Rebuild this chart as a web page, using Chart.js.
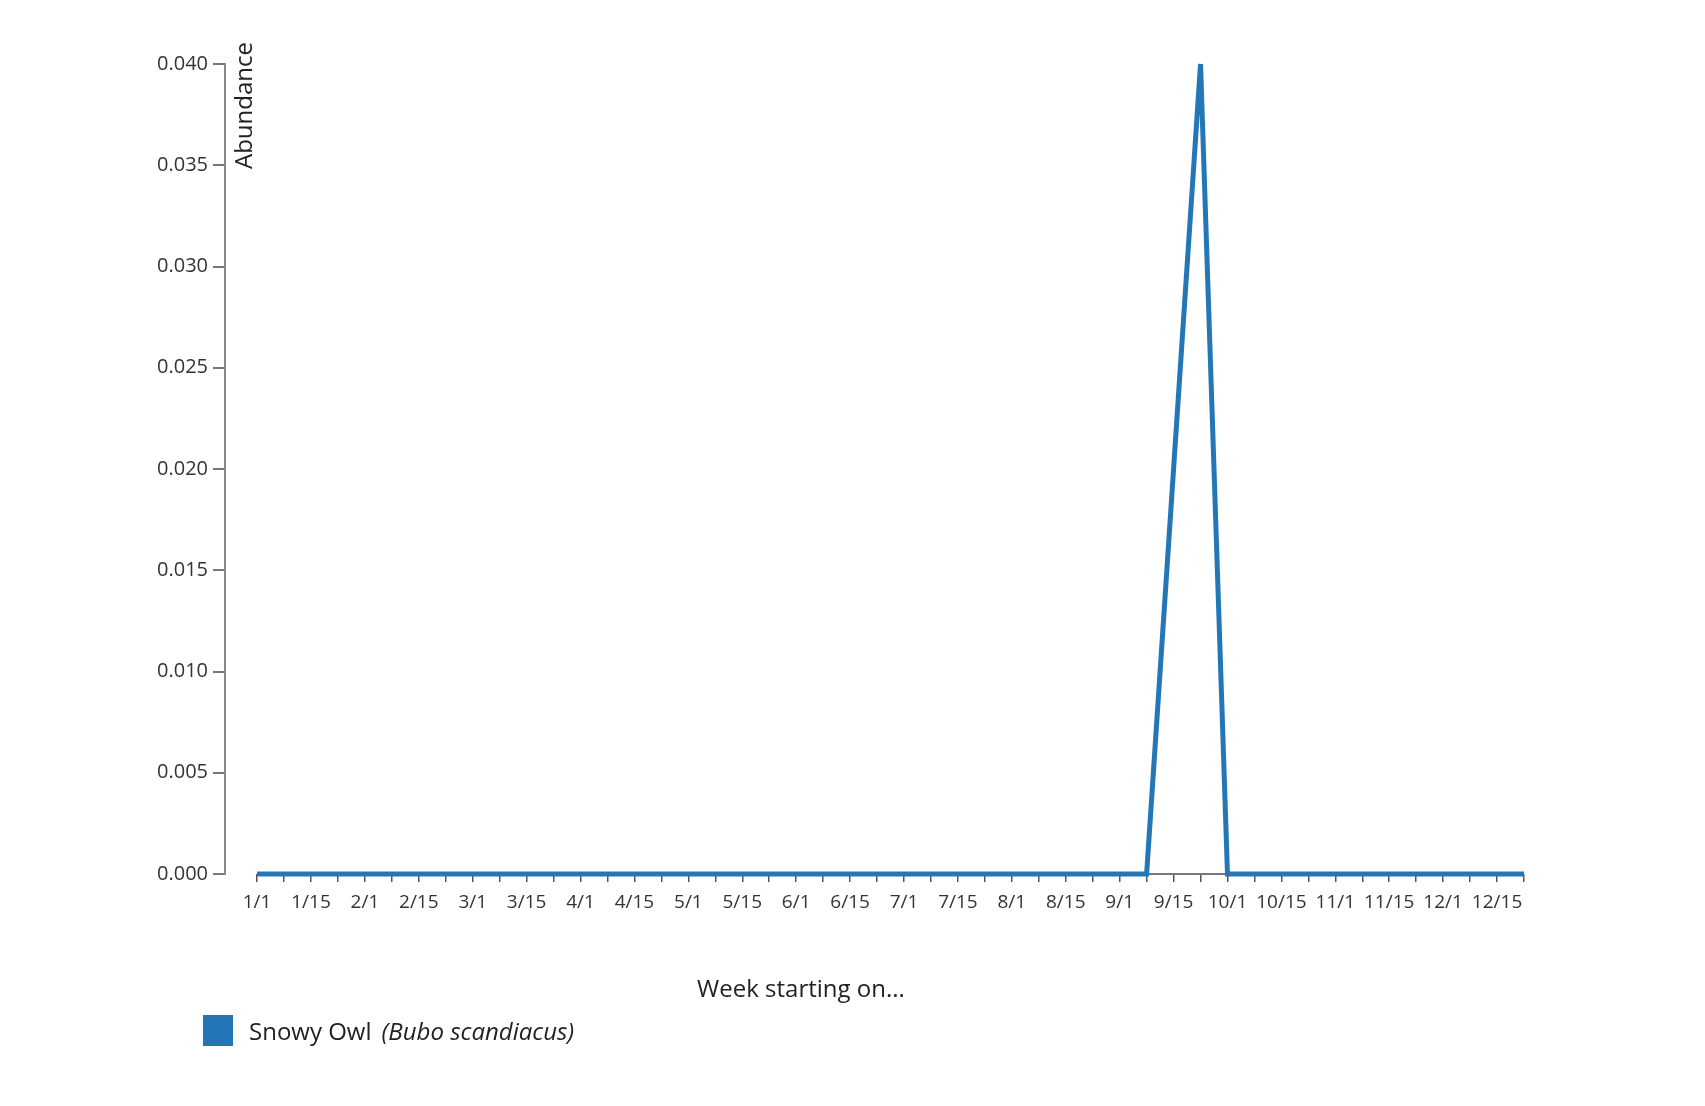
<!DOCTYPE html>
<html>
<head>
<meta charset="utf-8">
<script src="https://cdn.jsdelivr.net/npm/chart.js@4/dist/chart.umd.min.js"></script>
<style>
    html, body { margin: 0; padding: 0; background: #fff; }
    #wrap { position: relative; width: 1705px; height: 1106px; font-family: "Open Sans", sans-serif; color: #222; }
    #chart { position: absolute; left: 0; top: 0; }
    #y-title {
        position: absolute; left: 231px; top: 42px;
        font-size: 24px; line-height: 24px;
        writing-mode: vertical-rl; transform: rotate(180deg);
    }
    #x-title {
        position: absolute; left: 801px; top: 972px; transform: translateX(-50%);
        font-size: 24px; line-height: 32px; white-space: nowrap;
    }
    #legend { position: absolute; left: 203px; top: 1015px; height: 31px; display: flex; align-items: center; font-size: 24px; }
    #legend .swatch { width: 30px; height: 31px; margin-right: 16px; }
    #legend .sci { font-style: italic; margin-left: 10px; }
</style>
</head>
<body>
<div id="wrap">
    <canvas id="chart" width="1705" height="1106"></canvas>
    <div id="y-title">Abundance</div>
    <div id="x-title">Week starting on...</div>
    <div id="legend"></div>
</div>
<script>
// Semanas (início de cada semana), 4 por mês
const weekStarts = [
    '1/1', '1/8', '1/15', '1/22', '2/1', '2/8', '2/15', '2/22',
    '3/1', '3/8', '3/15', '3/22', '4/1', '4/8', '4/15', '4/22',
    '5/1', '5/8', '5/15', '5/22', '6/1', '6/8', '6/15', '6/22',
    '7/1', '7/8', '7/15', '7/22', '8/1', '8/8', '8/15', '8/22',
    '9/1', '9/8', '9/15', '9/22', '10/1', '10/8', '10/15', '10/22',
    '11/1', '11/8', '11/15', '11/22', '12/1', '12/8', '12/15', '12/22'
];

// Abundância por semana
const abundance = [
    0, 0, 0, 0, 0, 0, 0, 0,
    0, 0, 0, 0, 0, 0, 0, 0,
    0, 0, 0, 0, 0, 0, 0, 0,
    0, 0, 0, 0, 0, 0, 0, 0,
    0, 0, 0.02, 0.04, 0, 0, 0, 0,
    0, 0, 0, 0, 0, 0, 0, 0
];

const yTicks = [0, 0.005, 0.01, 0.015, 0.02, 0.025, 0.03, 0.035, 0.04];

const speciesName = 'Snowy Owl';
const scientificName = '(Bubo scandiacus)';
const lineColor = '#2377b6';

document.addEventListener('DOMContentLoaded', () => {
    // Legenda em HTML
    const legendEl = document.getElementById('legend');
    legendEl.innerHTML = `<span class="swatch" style="background:${lineColor}"></span>` +
        `<span>${speciesName}</span><span class="sci">${scientificName}</span>`;

    // Linha de base do eixo x, só entre a primeira e a última semana
    const baselinePlugin = {
        id: 'baseline',
        beforeDatasetsDraw(chart) {
            const { ctx, scales: { x, y } } = chart;
            const yPix = y.getPixelForValue(0);
            ctx.save();
            ctx.strokeStyle = '#777';
            ctx.lineWidth = 2;
            ctx.beginPath();
            ctx.moveTo(x.getPixelForValue(0), yPix);
            ctx.lineTo(x.getPixelForValue(weekStarts.length - 1), yPix);
            ctx.stroke();
            ctx.restore();
        }
    };

    const ctx = document.getElementById('chart').getContext('2d');
    new Chart(ctx, {
        type: 'line',
        data: {
            datasets: [{
                label: speciesName + ' ' + scientificName,
                data: abundance.map((v, i) => ({ x: i, y: v })),
                borderColor: lineColor,
                borderWidth: 5,
                pointRadius: 0,
                tension: 0,
                clip: 10
            }]
        },
        plugins: [baselinePlugin],
        options: {
            responsive: false,
            animation: false,
            devicePixelRatio: 1,
            layout: { padding: { left: 0, top: 64, right: 181, bottom: 172 } },
            plugins: {
                legend: { display: false },
                tooltip: { enabled: false }
            },
            scales: {
                x: {
                    type: 'linear',
                    min: -1.19,
                    max: weekStarts.length - 1,
                    afterBuildTicks: (scale) => {
                        scale.ticks = weekStarts.map((_, i) => ({ value: i }));
                    },
                    afterFit: (scale) => { scale.height = 60; },
                    border: { display: false },
                    grid: {
                        drawOnChartArea: false,
                        drawTicks: true,
                        tickLength: 8,
                        color: '#555',
                        lineWidth: 1.5
                    },
                    ticks: {
                        autoSkip: false,
                        maxRotation: 0,
                        padding: 9,
                        color: '#333',
                        font: { family: 'Open Sans', size: 19 },
                        callback: (value) => (value % 2 === 0 ? weekStarts[value] : '')
                    }
                },
                y: {
                    min: 0,
                    max: 0.04,
                    afterBuildTicks: (scale) => {
                        scale.ticks = yTicks.map(v => ({ value: v }));
                    },
                    afterFit: (scale) => { scale.width = 225; },
                    border: { display: true, color: '#888', width: 2 },
                    grid: {
                        drawOnChartArea: false,
                        drawTicks: true,
                        tickLength: 12,
                        color: '#777',
                        lineWidth: 2
                    },
                    ticks: {
                        padding: 5,
                        color: '#333',
                        font: { family: 'Open Sans', size: 20 },
                        callback: (value) => value.toFixed(3)
                    }
                }
            }
        }
    });
});
</script>
</body>
</html>
